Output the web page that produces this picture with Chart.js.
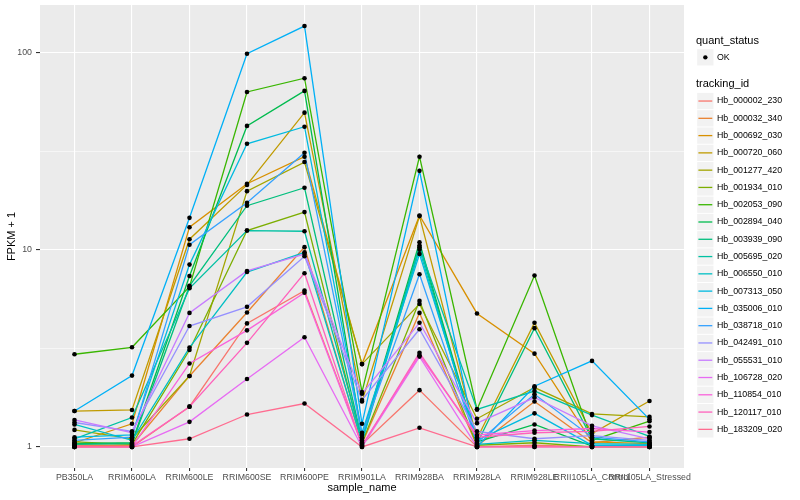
<!DOCTYPE html>
<html>
<head>
<meta charset="utf-8">
<script src="https://cdn.jsdelivr.net/npm/chart.js@4.4.1/dist/chart.umd.min.js"></script>
<style>
html,body{margin:0;padding:0;background:#fff;}
canvas{display:block;}
</style>
</head>
<body>
<canvas id="c" width="800" height="500"></canvas>
<script>
// ---- categories ----
const samples = ["PB350LA","RRIM600LA","RRIM600LE","RRIM600SE","RRIM600PE","RRIM901LA","RRIM928BA","RRIM928LA","RRIM928LE","RRII105LA_Control","RRII105LA_Stressed"];
const trackingIds = ["Hb_000002_230","Hb_000032_340","Hb_000692_030","Hb_000720_060","Hb_001277_420","Hb_001934_010","Hb_002053_090","Hb_002894_040","Hb_003939_090","Hb_005695_020","Hb_006550_010","Hb_007313_050","Hb_035006_010","Hb_038718_010","Hb_042491_010","Hb_055531_010","Hb_106728_020","Hb_110854_010","Hb_120117_010","Hb_183209_020"];
const colors = ["#F8766D","#EA8331","#D89000","#C09B00","#A3A500","#7CAE00","#39B600","#00BB4E","#00BF7D","#00C1A3","#00BFC4","#00BAE0","#00B0F6","#35A2FF","#9590FF","#C77CFF","#E76BF3","#FA62DB","#FF62BC","#FF6C90"];
const yTickValues = [1, 10, 100];
const yMinorValues = [3.1623, 31.623];

// ---- series values (FPKM + 1), one per tracking_id ----
const hb000002_230 = [1.00, 1.00, 1.60, 4.23, 6.20, 1.03, 1.94, 1.00, 1.02, 1.00, 1.00];
const hb000032_340 = [1.02, 1.02, 2.29, 4.80, 10.3, 1.04, 4.78, 1.01, 1.70, 1.05, 1.12];
const hb000692_030 = [1.05, 1.31, 13.0, 21.6, 29.6, 2.63, 14.9, 4.75, 2.97, 1.06, 1.04];
const hb000720_060 = [1.52, 1.54, 11.3, 21.3, 49.5, 1.70, 14.8, 1.10, 4.26, 1.17, 1.71];
const hb001277_420 = [1.22, 1.10, 2.29, 19.8, 27.8, 2.63, 5.30, 1.39, 2.00, 1.47, 1.42];
const hb001934_010 = [1.06, 1.03, 3.10, 12.5, 15.5, 1.05, 5.50, 1.02, 1.05, 1.00, 1.00];
const hb002053_090 = [2.95, 3.20, 6.50, 63.0, 74.0, 1.90, 29.6, 1.55, 7.40, 1.08, 1.35];
const hb002894_040 = [1.04, 1.05, 7.35, 42.4, 63.8, 1.12, 10.9, 1.06, 1.30, 1.01, 1.01];
const hb003939_090 = [1.03, 1.04, 6.55, 16.7, 20.6, 1.08, 10.5, 1.04, 4.00, 1.10, 1.05];
const hb005695_020 = [1.10, 1.41, 6.37, 12.5, 12.4, 1.10, 10.3, 1.55, 1.92, 1.45, 1.13];
const hb006550_010 = [1.30, 1.08, 3.19, 7.70, 9.70, 1.06, 10.0, 1.03, 1.08, 1.04, 1.03];
const hb007313_050 = [1.12, 1.15, 8.40, 34.4, 42.0, 1.18, 9.50, 1.08, 1.48, 1.02, 1.02];
const hb035006_010 = [1.52, 2.30, 14.5, 98.4, 136, 1.31, 25.1, 1.00, 2.03, 2.73, 1.38];
const hb038718_010 = [1.08, 1.12, 10.6, 17.3, 31.0, 1.15, 7.50, 1.05, 1.85, 1.12, 1.06];
const hb042491_010 = [1.33, 1.20, 4.10, 5.13, 9.26, 1.73, 3.95, 1.20, 1.10, 1.14, 1.08];
const hb055531_010 = [1.37, 1.18, 4.78, 7.80, 9.50, 1.86, 4.26, 1.32, 1.78, 1.28, 1.10];
const hb106728_020 = [1.00, 1.00, 1.34, 2.21, 3.60, 1.00, 2.87, 1.00, 1.00, 1.00, 1.00];
const hb110854_010 = [1.01, 1.00, 2.65, 3.90, 6.05, 1.02, 2.92, 1.15, 1.21, 1.24, 1.19];
const hb120117_010 = [1.00, 1.01, 1.60, 3.37, 7.60, 1.01, 3.00, 1.12, 1.18, 1.20, 1.27];
const hb183209_020 = [1.00, 1.00, 1.10, 1.46, 1.66, 1.00, 1.25, 1.00, 1.00, 1.00, 1.00];

const series = [hb000002_230, hb000032_340, hb000692_030, hb000720_060, hb001277_420, hb001934_010, hb002053_090, hb002894_040, hb003939_090, hb005695_020, hb006550_010, hb007313_050, hb035006_010, hb038718_010, hb042491_010, hb055531_010, hb106728_020, hb110854_010, hb120117_010, hb183209_020];

const FAMILY = '"Liberation Sans", Arial, Helvetica, sans-serif';

const lineSets = series.map((arr, i) => ({
  type: 'line',
  label: trackingIds[i],
  data: arr.map((v, j) => ({x: j, y: v})),
  borderColor: colors[i],
  backgroundColor: colors[i],
  borderWidth: 1.3,
  pointRadius: 0,
  fill: false,
  tension: 0,
  order: 100 - i
}));

const pointSet = {
  type: 'scatter',
  label: 'OK',
  data: series.flatMap(arr => arr.map((v, j) => ({x: j, y: v}))),
  backgroundColor: '#000',
  borderColor: '#000',
  borderWidth: 0,
  pointRadius: 2.3,
  order: 0
};

const panelBg = {
  id: 'panelBg',
  beforeDraw(chart) {
    const {ctx, chartArea: a} = chart;
    ctx.save();
    ctx.fillStyle = '#fff';
    ctx.fillRect(0, 0, chart.width, chart.height);
    ctx.fillStyle = '#EBEBEB';
    ctx.fillRect(a.left, a.top, a.right - a.left, a.bottom - a.top);
    ctx.restore();
  }
};

const ggLegend = {
  id: 'ggLegend',
  afterDraw(chart) {
    const ctx = chart.ctx;
    const kx = 696.7, ks = 17.28;
    ctx.save();
    ctx.textBaseline = 'middle';
    ctx.textAlign = 'left';
    ctx.fillStyle = '#000';
    ctx.font = '11px ' + FAMILY;
    ctx.fillText('quant_status', 696, 40.5);
    let ky = 48.7;
    ctx.fillStyle = '#F2F2F2';
    ctx.fillRect(kx + 0.5, ky + 0.5, ks - 1, ks - 1);
    ctx.fillStyle = '#000';
    ctx.beginPath();
    ctx.arc(kx + ks / 2, ky + ks / 2, 2.2, 0, Math.PI * 2);
    ctx.fill();
    ctx.font = '8.8px ' + FAMILY;
    ctx.fillText('OK', 717, ky + ks / 2);
    ctx.font = '11px ' + FAMILY;
    ctx.fillText('tracking_id', 696, 84);
    ctx.font = '8.8px ' + FAMILY;
    trackingIds.forEach((id, i) => {
      const y = 92.4 + i * ks;
      ctx.fillStyle = '#F2F2F2';
      ctx.fillRect(kx + 0.5, y + 0.5, ks - 1, ks - 1);
      ctx.strokeStyle = colors[i];
      ctx.lineWidth = 1.3;
      ctx.beginPath();
      ctx.moveTo(kx + 1.7, y + ks / 2);
      ctx.lineTo(kx + ks - 1.7, y + ks / 2);
      ctx.stroke();
      ctx.fillStyle = '#000';
      ctx.fillText(id, 717, y + ks / 2);
    });
    ctx.restore();
  }
};

const isMajor = v => yTickValues.some(t => Math.abs(t - v) < 1e-9);

new Chart(document.getElementById('c'), {
  data: { datasets: [pointSet, ...lineSets] },
  plugins: [panelBg, ggLegend],
  options: {
    responsive: false,
    animation: false,
    layout: { padding: { left: 0, top: 5, right: 116, bottom: 0 } },
    plugins: { legend: { display: false }, tooltip: { enabled: false } },
    scales: {
      x: {
        type: 'linear',
        min: -0.6,
        max: 10.6,
        afterBuildTicks: s => { s.ticks = samples.map((_, i) => ({ value: i })); },
        afterFit: s => { s.height = 32; s.paddingLeft = 0; s.paddingRight = 0; },
        ticks: {
          autoSkip: false, maxRotation: 0, minRotation: 0, padding: 1,
          color: '#4D4D4D', font: { size: 8.8, family: FAMILY },
          callback: v => samples[Math.round(v)]
        },
        grid: { color: '#fff', lineWidth: 1.1, tickLength: 3, tickColor: '#333', drawTicks: true },
        border: { display: false },
        title: { display: true, text: 'sample_name', color: '#000', font: { size: 11, family: FAMILY }, padding: { top: 0, bottom: 5.4 } }
      },
      y: {
        type: 'logarithmic',
        min: 0.782,
        max: 173.9,
        afterBuildTicks: s => { s.ticks = [1, yMinorValues[0], 10, yMinorValues[1], 100].map(v => ({ value: v })); },
        afterFit: s => { s.width = 40; s.paddingTop = 0; s.paddingBottom = 0; },
        ticks: {
          autoSkip: false, padding: 4,
          color: '#4D4D4D', font: { size: 8.8, family: FAMILY },
          callback: v => isMajor(v) ? String(v) : ''
        },
        grid: {
          color: '#fff',
          lineWidth: c => (c.tick && isMajor(c.tick.value)) ? 1.1 : 0.55,
          tickLength: 4,
          tickColor: c => (c.tick && isMajor(c.tick.value)) ? '#333' : 'rgba(0,0,0,0)'
        },
        border: { display: false },
        title: { display: true, text: 'FPKM + 1', color: '#000', font: { size: 11, family: FAMILY }, padding: { top: 5, bottom: 0 } }
      }
    }
  }
});
</script>
</body>
</html>
